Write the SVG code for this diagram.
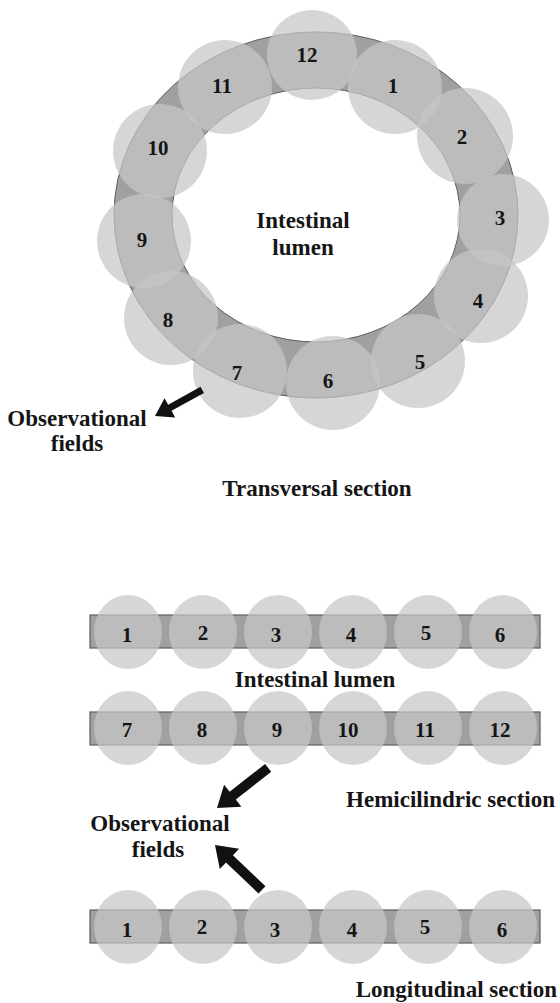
<svg xmlns="http://www.w3.org/2000/svg" width="560" height="1003" viewBox="0 0 560 1003">
<style>
.bg{fill:#ffffff}
.ring{fill:#a0a0a0;stroke:#5e5e5e;stroke-width:1;fill-rule:evenodd}
.bar{fill:#a0a0a0;stroke:#5e5e5e;stroke-width:1.2}
.fld{fill:#c6c6c6;fill-opacity:0.72}
.num{font-family:"Liberation Serif","Times New Roman",serif;font-weight:bold;font-size:21px;fill:#151515;text-anchor:middle}
.lbl{font-family:"Liberation Serif","Times New Roman",serif;font-weight:bold;font-size:23px;fill:#151515;text-anchor:middle}
.arr{fill:#111}
</style>
<rect class="bg" x="0" y="0" width="560" height="1003"/>

<g id="ring">
<path class="ring" d="M114,215 a202,183 0 1,0 404,0 a202,183 0 1,0 -404,0 Z M172,215 a144,127 0 1,0 288,0 a144,127 0 1,0 -288,0 Z"/>
</g>

<g id="t-field-12"><circle class="fld" cx="312" cy="55" r="45"/><text class="num" x="307" y="62">12</text></g>
<g id="t-field-1"><circle class="fld" cx="395" cy="87" r="47"/><text class="num" x="393" y="93">1</text></g>
<g id="t-field-2"><circle class="fld" cx="465" cy="136" r="48"/><text class="num" x="462" y="144">2</text></g>
<g id="t-field-3"><circle class="fld" cx="503" cy="220" r="46"/><text class="num" x="500" y="225">3</text></g>
<g id="t-field-4"><circle class="fld" cx="481" cy="296" r="47"/><text class="num" x="478" y="308">4</text></g>
<g id="t-field-5"><circle class="fld" cx="418" cy="361" r="47"/><text class="num" x="420" y="369">5</text></g>
<g id="t-field-6"><circle class="fld" cx="333" cy="383" r="47"/><text class="num" x="328" y="388">6</text></g>
<g id="t-field-7"><circle class="fld" cx="240" cy="371" r="47"/><text class="num" x="237" y="380">7</text></g>
<g id="t-field-8"><circle class="fld" cx="171" cy="318" r="47"/><text class="num" x="168" y="327">8</text></g>
<g id="t-field-9"><circle class="fld" cx="144" cy="241" r="47"/><text class="num" x="142" y="247">9</text></g>
<g id="t-field-10"><circle class="fld" cx="160" cy="151" r="47"/><text class="num" x="158" y="155">10</text></g>
<g id="t-field-11"><circle class="fld" cx="225" cy="87" r="47"/><text class="num" x="222" y="93">11</text></g>

<g id="t-lumen"><text class="lbl" x="303" y="228">Intestinal</text><text class="lbl" x="303" y="255">lumen</text></g>
<g id="t-obs"><text class="lbl" x="77" y="426">Observational</text><text class="lbl" x="77" y="451">fields</text></g>
<g id="t-title"><text class="lbl" x="317" y="496">Transversal section</text></g>

<g id="bar-hemi-top">
<rect class="bar" x="90" y="615" width="450" height="33"/>
<ellipse class="fld" cx="128" cy="632" rx="34" ry="37"/>
<ellipse class="fld" cx="203" cy="632" rx="34" ry="37"/>
<ellipse class="fld" cx="278" cy="632" rx="34" ry="37"/>
<ellipse class="fld" cx="353" cy="632" rx="34" ry="37"/>
<ellipse class="fld" cx="428" cy="632" rx="34" ry="37"/>
<ellipse class="fld" cx="503" cy="632" rx="34" ry="37"/>
<text class="num" x="127" y="642">1</text>
<text class="num" x="203" y="640">2</text>
<text class="num" x="276" y="642">3</text>
<text class="num" x="351" y="642">4</text>
<text class="num" x="426" y="640">5</text>
<text class="num" x="500" y="642">6</text>
</g>

<g id="h-lumen"><text class="lbl" x="315" y="687">Intestinal lumen</text></g>

<g id="bar-hemi-bottom">
<rect class="bar" x="90" y="712" width="450" height="33"/>
<ellipse class="fld" cx="128" cy="728" rx="34" ry="37"/>
<ellipse class="fld" cx="203" cy="728" rx="34" ry="37"/>
<ellipse class="fld" cx="278" cy="728" rx="34" ry="37"/>
<ellipse class="fld" cx="353" cy="728" rx="34" ry="37"/>
<ellipse class="fld" cx="428" cy="728" rx="34" ry="37"/>
<ellipse class="fld" cx="503" cy="728" rx="34" ry="37"/>
<text class="num" x="127" y="737">7</text>
<text class="num" x="202" y="737">8</text>
<text class="num" x="277" y="737">9</text>
<text class="num" x="348" y="737">10</text>
<text class="num" x="425" y="737">11</text>
<text class="num" x="500" y="737">12</text>
</g>

<g id="h-title"><text class="lbl" x="555" y="807" style="text-anchor:end">Hemicilindric section</text></g>
<g id="h-obs"><text class="lbl" x="160" y="831">Observational</text><text class="lbl" x="158" y="857">fields</text></g>

<g id="bar-long">
<rect class="bar" x="90" y="910" width="450" height="33"/>
<ellipse class="fld" cx="128" cy="927" rx="34" ry="37"/>
<ellipse class="fld" cx="203" cy="927" rx="34" ry="37"/>
<ellipse class="fld" cx="278" cy="927" rx="34" ry="37"/>
<ellipse class="fld" cx="353" cy="927" rx="34" ry="37"/>
<ellipse class="fld" cx="428" cy="927" rx="34" ry="37"/>
<ellipse class="fld" cx="503" cy="927" rx="34" ry="37"/>
<text class="num" x="127" y="937">1</text>
<text class="num" x="202" y="934">2</text>
<text class="num" x="275" y="937">3</text>
<text class="num" x="352" y="937">4</text>
<text class="num" x="425" y="934">5</text>
<text class="num" x="502" y="937">6</text>
</g>

<g id="l-title"><text class="lbl" x="557" y="997" style="text-anchor:end">Longitudinal section</text></g>

<g id="connectors">
<polygon class="arr" transform="translate(155,416) rotate(151)" points="-54,-3.5 -17,-3.5 -17,-11 0,0 -17,11 -17,3.5 -54,3.5"/>
<polygon class="arr" transform="translate(217,808) rotate(141.9)" points="-65,-5 -20,-5 -20,-14 0,0 -20,14 -20,5 -65,5"/>
<polygon class="arr" transform="translate(215,845) rotate(-136.3)" points="-65,-5 -20,-5 -20,-14 0,0 -20,14 -20,5 -65,5"/>
</g>
</svg>
